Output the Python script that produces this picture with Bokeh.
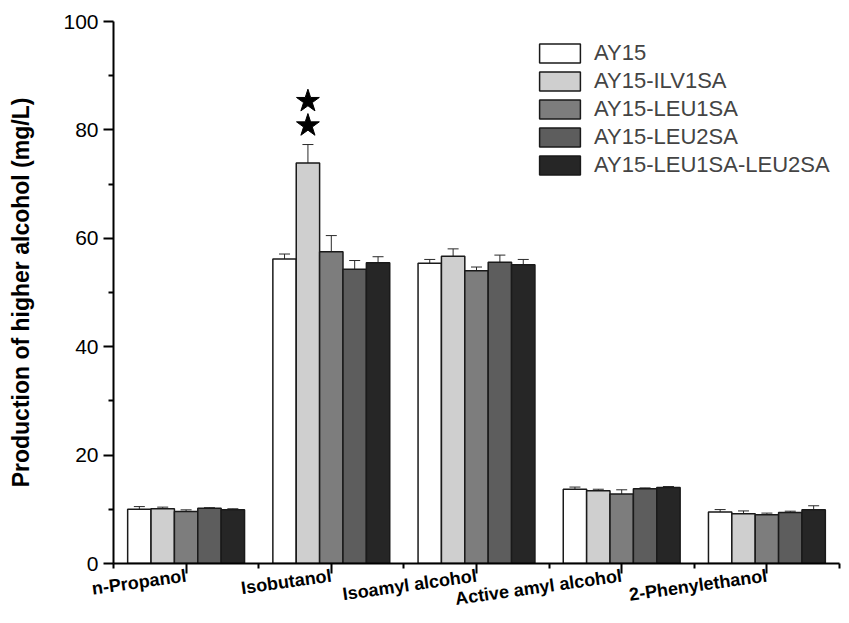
import numpy as np
from bokeh.plotting import figure
from bokeh.models import ColumnDataSource, Whisker, TeeHead, FixedTicker
from bokeh.embed import file_html
from bokeh.resources import INLINE

categories = ["n-Propanol", "Isobutanol", "Isoamyl alcohol", "Active amyl alcohol", "2-Phenylethanol"]
strains = ["AY15", "AY15-ILV1SA", "AY15-LEU1SA", "AY15-LEU2SA", "AY15-LEU1SA-LEU2SA"]
colors = ["#ffffff", "#cfcfcf", "#7d7d7d", "#5d5d5d", "#262626"]

ay15 = [10.0, 56.2, 55.4, 13.7, 9.5]
ilv1sa = [10.1, 73.9, 56.7, 13.4, 9.2]
leu1sa = [9.6, 57.5, 54.0, 12.8, 9.0]
leu2sa = [10.2, 54.3, 55.6, 13.8, 9.4]
leu12sa = [9.9, 55.5, 55.1, 14.0, 9.9]

ay15_err = [0.5, 0.9, 0.7, 0.4, 0.45]
ilv1sa_err = [0.3, 3.4, 1.35, 0.3, 0.5]
leu1sa_err = [0.3, 3.0, 0.7, 0.8, 0.3]
leu2sa_err = [0.1, 1.6, 1.3, 0.15, 0.25]
leu12sa_err = [0.2, 1.1, 1.0, 0.2, 0.75]

series = [ay15, ilv1sa, leu1sa, leu2sa, leu12sa]
errors = [ay15_err, ilv1sa_err, leu1sa_err, leu2sa_err, leu12sa_err]

# significance stars (category index, strain index, y values)
star_cat = 2
star_strain = 1
star_y = [80.8, 85.3]

y_ticks = [0, 20, 40, 60, 80, 100]
y_minor = [10, 30, 50, 70, 90]

FONT = "Liberation Sans"
bar_w = 0.161

p = figure(width=847, height=621, x_range=(0.5, 5.5), y_range=(0, 100),
           output_backend="svg", toolbar_location=None,
           min_border_left=113, min_border_right=8, min_border_top=21, min_border_bottom=58)
p.grid.visible = False
p.outline_line_color = None

cat_x = np.arange(1, len(categories) + 1)
for i, (vals, errs) in enumerate(zip(series, errors)):
    xs = cat_x + (i - 2) * bar_w
    src = ColumnDataSource(dict(x=xs, top=vals,
                                upper=np.array(vals) + np.array(errs),
                                lower=np.array(vals) - np.array(errs)))
    p.vbar(x="x", top="top", width=bar_w, source=src, fill_color=colors[i],
           line_color="#1a1a1a", line_width=1.5, legend_label=strains[i])
    w = Whisker(base="x", upper="upper", lower="lower", source=src,
                line_color="#2a2a2a", line_width=1,
                upper_head=TeeHead(size=11, line_color="#2a2a2a", line_width=1),
                lower_head=TeeHead(size=11, line_color="#2a2a2a", line_width=1))
    p.add_layout(w)

sx = [star_cat + (star_strain - 2) * bar_w] * len(star_y)
p.scatter(x=sx, y=star_y, marker="star", size=24, color="black")

# axes
p.xaxis.ticker = FixedTicker(ticks=list(cat_x), minor_ticks=list(np.arange(0.5, 6.0, 1.0)))
p.xaxis.major_label_overrides = {int(c): name for c, name in zip(cat_x, categories)}
p.xaxis.major_label_orientation = 0.14
p.xaxis.major_label_text_font = FONT
p.xaxis.major_label_text_font_style = "bold"
p.xaxis.major_label_text_font_size = "18px"
p.xaxis.major_label_standoff = 2

p.yaxis.ticker = FixedTicker(ticks=y_ticks, minor_ticks=y_minor)
p.yaxis.major_label_text_font = FONT
p.yaxis.major_label_text_font_size = "21px"
p.yaxis.major_label_standoff = 5
p.yaxis.axis_label = "Production of higher alcohol (mg/L)"
p.yaxis.axis_label_text_font = FONT
p.yaxis.axis_label_text_font_style = "bold"
p.yaxis.axis_label_text_font_size = "23px"
p.yaxis.axis_label_standoff = 26

for ax in (p.xaxis, p.yaxis):
    ax.axis_line_width = 2
    ax.axis_line_color = "black"
    ax.major_tick_line_width = 2
    ax.minor_tick_line_width = 2
    ax.major_tick_line_color = "black"
    ax.minor_tick_line_color = "black"
    ax.major_tick_out = 10
    ax.major_tick_in = 0
    ax.minor_tick_out = 5
    ax.minor_tick_in = 0
    ax.major_label_text_color = "black"
    ax.axis_label_text_color = "black"

leg = p.legend[0]
leg.location = (421, 385)
leg.glyph_width = 51
leg.glyph_height = 24
leg.label_height = 24
leg.spacing = 2
leg.padding = 0
leg.margin = 0
leg.label_standoff = 9
leg.label_text_font = FONT
leg.label_text_font_size = "22px"
leg.border_line_color = None
leg.background_fill_alpha = 0

open("out.html", "w").write(file_html(p, INLINE))
